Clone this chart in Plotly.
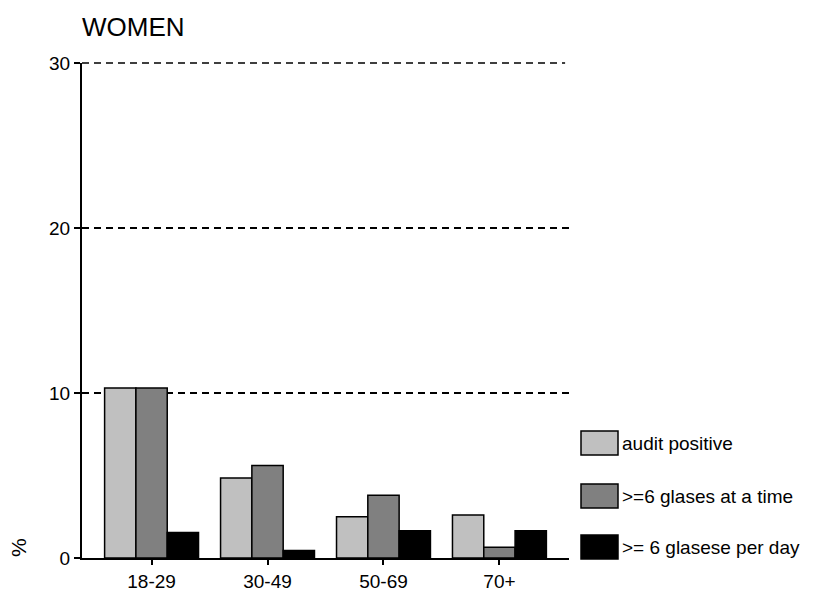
import plotly.graph_objects as go

categories = ["18-29", "30-49", "50-69", "70+"]
series_names = ["audit positive", ">=6 glases at a time", ">= 6 glasese per day"]
audit_positive = [10.3, 4.85, 2.5, 2.6]
six_at_a_time = [10.3, 5.6, 3.8, 0.65]
six_per_day = [1.55, 0.45, 1.65, 1.65]
series_values = [audit_positive, six_at_a_time, six_per_day]
colors = ["#c0c0c0", "#808080", "#000000"]
y_ticks = [0, 10, 20, 30]

# page body has an 8px margin; work in screen pixels and shift
OFF = 8
W, H = 819 - OFF, 592 - OFF
ML, MR, MT, MB = 82 - OFF, 250, 63 - OFF, 34
PW, PH = W - ML - MR, H - MT - MB

def px_x(x):
    return (x - OFF - ML) / PW

def px_y(y):
    return (H + OFF - MB - y) / PH

FONT = "Liberation Sans, Arial, sans-serif"

fig = go.Figure()
for name, vals, col in zip(series_names, series_values, colors):
    fig.add_trace(go.Bar(
        x=categories, y=vals, name=name,
        marker=dict(color=col, line=dict(color="black", width=1.5)),
        showlegend=False,
    ))

rows = [443, 496, 547]
# top gridline (at the upper end of the axis range, y = 30)
shapes = [dict(type="line", xref="paper", yref="paper", x0=0, x1=0.992,
               y0=1, y1=1, layer="above",
               line=dict(color="black", width=1.5, dash="7px,5px"))]
annotations = []
for name, col, cy in zip(series_names, colors, rows):
    shapes.append(dict(type="rect", xref="paper", yref="paper",
                       x0=px_x(581), x1=px_x(618), y0=px_y(cy + 12), y1=px_y(cy - 12),
                       fillcolor=col, line=dict(color="black", width=1.5)))
    annotations.append(dict(xref="paper", yref="paper", x=px_x(620), y=px_y(cy),
                            text=name, showarrow=False, xanchor="left", yanchor="middle",
                            font=dict(family=FONT, size=19, color="black")))

annotations.append(dict(xref="paper", yref="paper", x=px_x(18), y=px_y(548),
                        text="%", textangle=-90, showarrow=False,
                        xanchor="center", yanchor="middle",
                        font=dict(family=FONT, size=21, color="black")))

annotations.append(dict(xref="paper", yref="paper", x=px_x(80), y=px_y(10),
                        text="WOMEN", showarrow=False,
                        xanchor="left", yanchor="top",
                        font=dict(family=FONT, size=26, color="black")))

fig.update_layout(
    width=W, height=H,
    margin=dict(l=ML, r=MR, t=MT, b=MB, autoexpand=False),
    paper_bgcolor="white", plot_bgcolor="white",
    barmode="group", bargap=0.19, bargroupgap=0,
    font=dict(family=FONT, size=19, color="black"),
    shapes=shapes, annotations=annotations,
    xaxis=dict(range=[-0.6, 3.6], showline=True, linecolor="black", linewidth=2,
               ticks="outside", ticklen=5, tickwidth=2, tickcolor="black",
               showgrid=False, zeroline=False, fixedrange=True,
               tickfont=dict(family=FONT, size=19, color="black")),
    yaxis=dict(range=[0, 30], tickvals=y_ticks, showline=True, linecolor="black",
               linewidth=2, ticks="outside", ticklen=6, tickwidth=2, tickcolor="black",
               showgrid=True, gridcolor="black", gridwidth=1.5, griddash="7px,5px",
               zeroline=False, fixedrange=True,
               tickfont=dict(family=FONT, size=19, color="black")),
)

fig.write_html("out.html")
